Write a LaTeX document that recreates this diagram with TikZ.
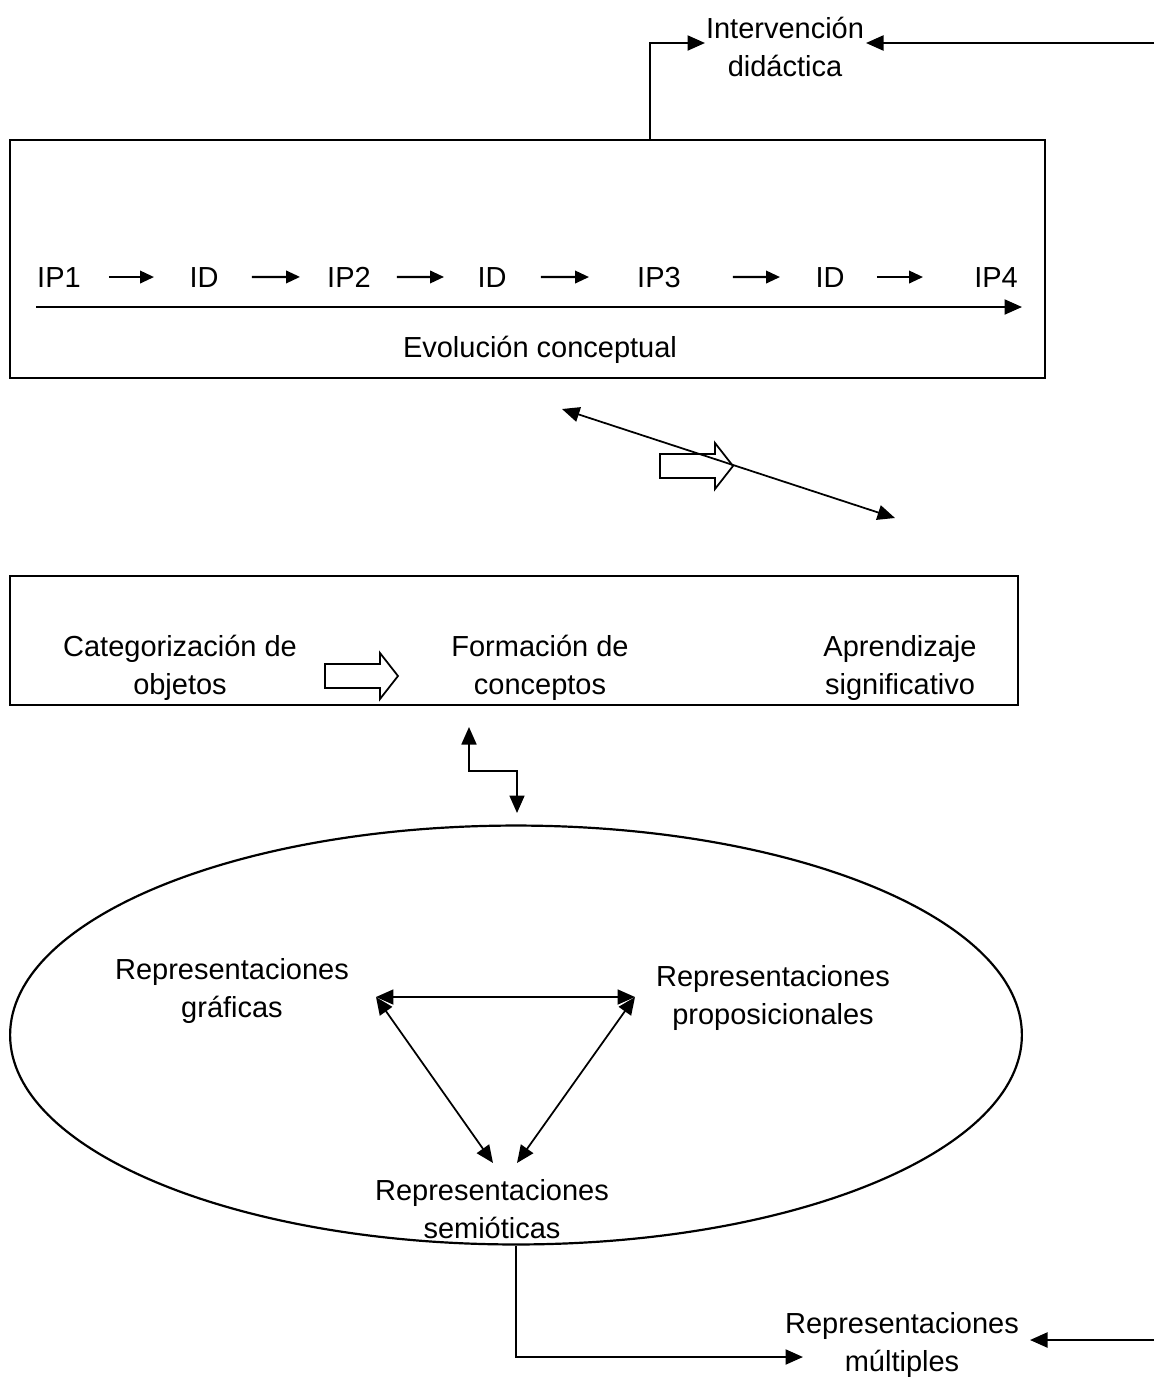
\documentclass[tikz,border=0pt]{standalone}
\usepackage{fontspec}
\setmainfont{Liberation Sans}
\usetikzlibrary{arrows.meta, positioning, shapes.geometric}

\begin{document}
\begin{tikzpicture}[
    x=0.02cm, y=-0.02cm,
    line width=1.25pt,
    label/.style={
        align=center,
        inner sep=1mm,
        font=\fontsize{16.5}{21.5}\selectfont
    },
    steplabel/.style={
        label,
        anchor=base
    },
    frame/.style={
        draw=black,
        rectangle,
        inner sep=0pt
    },
    tip/.style={
        -{Triangle[length=3.5mm, width=3mm]}
    },
    bothtips/.style={
        {Triangle[length=3.5mm, width=3mm]}-{Triangle[length=3.5mm, width=3mm]}
    },
    steptip/.style={
        -{Triangle[length=2.8mm, width=2.5mm]}
    },
    pushblock/.pic={
        \draw[line width=1pt] (0,-12) -- (55,-12) -- (55,-23) -- (73,0)
            -- (55,23) -- (55,12) -- (0,12) -- cycle;
    }
]
    \useasboundingbox (0,0) rectangle (1154,1377);

    % upper block
    \node[frame, minimum width=20.7cm, minimum height=4.76cm] (evolbox) at (527.5,259) {};
    \node[label] (interv) at (785,47) {Intervención\\didáctica};

    \node[steplabel] (ip1) at (59,287) {IP1};
    \node[steplabel] (id1) at (204,287) {ID};
    \node[steplabel] (ip2) at (349,287) {IP2};
    \node[steplabel] (id2) at (492,287) {ID};
    \node[steplabel] (ip3) at (659,287) {IP3};
    \node[steplabel] (id3) at (830,287) {ID};
    \node[steplabel] (ip4) at (996,287) {IP4};
    \node[label] (evol) at (540,350) {Evolución conceptual};

    \foreach \a/\b/\s/\e in {ip1/id1/1.0/1.0, id1/ip2/0.96/0.98, ip2/id2/0.96/0.96,
                             id2/ip3/0.98/1.4, ip3/id3/1.48/1.0, id3/ip4/0.94/1.46}
        \draw[steptip, shorten <=\s cm, shorten >=\e cm] (\a.center) -- (\b.center);

    \coordinate (evstart) at (36,307);
    \coordinate (evend) at (1022,307);
    \draw[tip] (evstart) -- (evend);

    \coordinate (intervin) at (705,43);
    \coordinate (intervright) at (1154,43);
    \coordinate (intervtip) at (866,43);
    \draw[tip] ([xshift=2.45cm]evolbox.north) |- (intervin);
    \draw[tip] (intervright) -- (intervtip);

    % link between the blocks
    \coordinate (linkup) at (562,409);
    \coordinate (linkdown) at (895,518);
    \draw[bothtips, line width=1pt] (linkup) -- (linkdown);
    \pic at (660,466) {pushblock};

    % middle block
    \node[frame, minimum width=20.16cm, minimum height=2.58cm] (conbox) at (514,640.5) {};
    \node[label] (categ) at (180,668) {Categorización de\\objetos};
    \node[label] (formac) at (540,668) {Formación de\\conceptos};
    \node[label] (aprend) at (900,668) {Aprendizaje\\significativo};
    \pic at (325,676) {pushblock};

    \coordinate (stepup) at (469,727);
    \coordinate (stepmid) at (517,771);
    \coordinate (stepdown) at (517,813);
    \draw[bothtips, line width=1pt] (stepup) |- (stepmid) -- (stepdown);

    % representations
    \node[ellipse, draw, inner sep=0pt, minimum width=20.24cm, minimum height=8.38cm] (reps) at (516,1035) {};
    \node[label] (graf) at (232,991) {Representaciones\\gráficas};
    \node[label] (prop) at (773,998) {Representaciones\\proposicionales};
    \node[label] (semio) at (492,1209) {Representaciones\\semióticas};

    \coordinate (tleft) at (376,997);
    \coordinate (tright) at (635,997);
    \coordinate (bleft) at (493,1163);
    \coordinate (bright) at (517,1163);
    \draw[bothtips, line width=1pt] (tleft) -- (tright);
    \draw[bothtips, line width=1pt] (tleft) -- (bleft);
    \draw[bothtips, line width=1pt] (tright) -- (bright);

    % bottom
    \node[label] (multi) at (902,1345) {Representaciones\\múltiples};
    \coordinate (multitip) at (803,1357);
    \coordinate (multiright) at (1154,1340);
    \coordinate (multiin) at (1030,1340);
    \draw[tip] (reps.south) |- (multitip);
    \draw[tip] (multiright) -- (multiin);
\end{tikzpicture}
\end{document}
